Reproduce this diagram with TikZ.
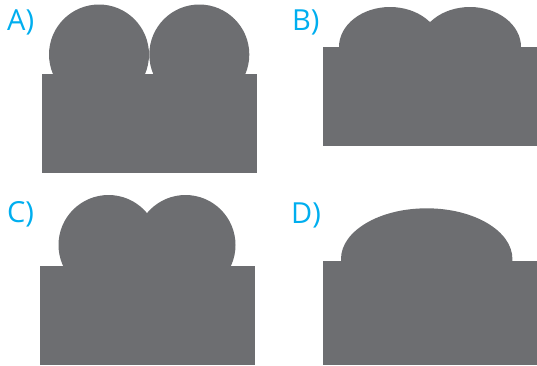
\documentclass[tikz,border=0pt]{standalone}
\usepackage{fontspec}
\setmainfont{Open Sans}
\usepackage{tikz}
\usetikzlibrary{positioning}
\definecolor{shapegray}{HTML}{6D6E71}
\definecolor{labelcyan}{HTML}{00AEEF}

\begin{document}
\begin{tikzpicture}[
  x=1pt, y=-1pt,
  blob/.style={fill=shapegray, draw=none},
  tag/.style={text=labelcyan, font=\fontsize{29}{29}\selectfont,
              inner sep=0pt, anchor=base west},
]
\useasboundingbox (0,0) rectangle (537,365);
% A) two full circles on the block
\fill[blob] (42,74) rectangle (257,173);
\fill[blob] (99,54.5) circle[radius=50];
\fill[blob] (199.3,54.5) circle[radius=50];
\node[tag] (labA) at (7,30) {A)};
% B) two flat overlapping bumps
\fill[blob] (323,47) rectangle (537,146);
\fill[blob] (390,47) ellipse[x radius=51, y radius=40];
\fill[blob] (470,47) ellipse[x radius=51, y radius=40];
\node[tag] (labB) at (292,30) {B)};
% C) two overlapping circles
\fill[blob] (40,266) rectangle (255,365);
\fill[blob] (108.5,245) circle[radius=50];
\fill[blob] (185.5,245) circle[radius=50];
\node[tag] (labC) at (7,222.5) {C)};
% D) one wide bump
\fill[blob] (323,261) rectangle (537,365);
\fill[blob] (426.7,259) ellipse[x radius=85.7, y radius=50.7];
\node[tag] (labD) at (291,223) {D)};
\end{tikzpicture}
\end{document}
